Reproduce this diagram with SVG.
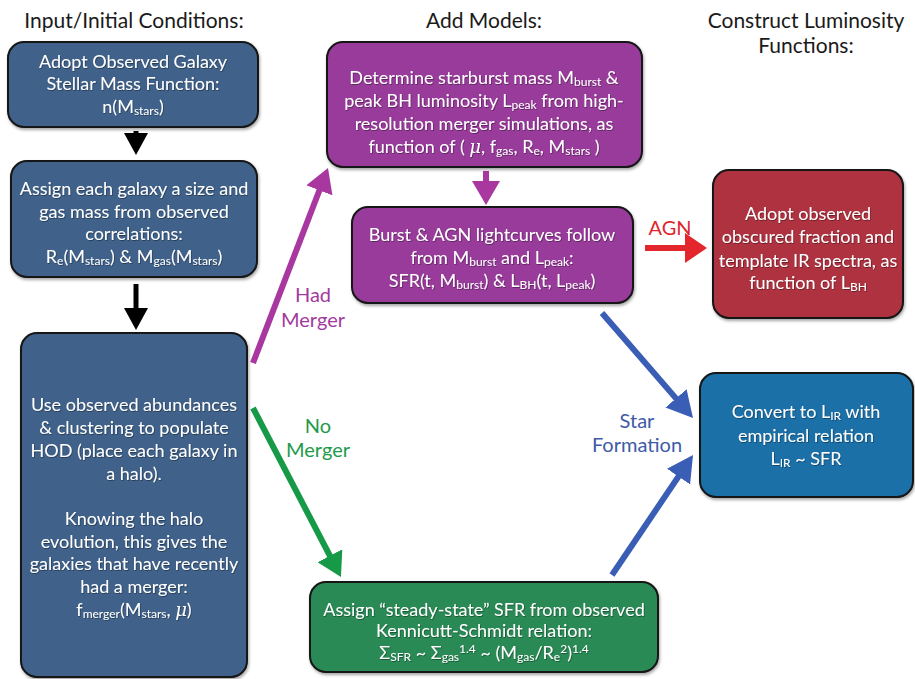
<svg xmlns="http://www.w3.org/2000/svg" width="915" height="679" viewBox="0 0 915 679">
<defs>
<style>
.t{font-family:Lato,"Open Sans","DejaVu Sans",sans-serif;font-size:18px;fill:#fff;text-anchor:middle;filter:url(#ts)}
.h{font-family:Lato,"Open Sans","DejaVu Sans",sans-serif;font-size:21px;fill:#1a1a1a;text-anchor:middle}
.l{font-family:Lato,"Open Sans","DejaVu Sans",sans-serif;font-size:20px;text-anchor:middle}
.s{font-size:12px}
.m{font-family:"DejaVu Serif","Liberation Serif",serif;font-style:italic}
.box{stroke:#141414;stroke-width:2;filter:url(#bs)}
.slate{fill:#40628a}
.purple{fill:#983b9a}
.red{fill:#ae3340}
.blue{fill:#1f6fa8}
.green{fill:#2b8a55}
</style>
<filter id="ts" x="-5%" y="-20%" width="110%" height="150%">
<feDropShadow dx="0.7" dy="0.9" stdDeviation="0.6" flood-color="#000" flood-opacity="0.4"/>
</filter>
<filter id="bs" x="-5%" y="-5%" width="110%" height="115%">
<feDropShadow dx="1" dy="2" stdDeviation="1.5" flood-color="#000" flood-opacity="0.35"/>
</filter>
<marker id="mk" markerUnits="userSpaceOnUse" markerWidth="22" markerHeight="24" refX="2" refY="12" orient="auto"><path d="M0,0 L22,12 L0,24 z" fill="#000"/></marker>
<marker id="mp" markerUnits="userSpaceOnUse" markerWidth="24" markerHeight="28" refX="2" refY="14" orient="auto"><path d="M0,0 L24,14 L0,28 z" fill="#a8389f"/></marker>
<marker id="mg" markerUnits="userSpaceOnUse" markerWidth="24" markerHeight="28" refX="2" refY="14" orient="auto"><path d="M0,0 L24,14 L0,28 z" fill="#179a47"/></marker>
<marker id="mb" markerUnits="userSpaceOnUse" markerWidth="26" markerHeight="28" refX="2" refY="14" orient="auto"><path d="M0,0 L26,14 L0,28 z" fill="#3a5db5"/></marker>
<marker id="mr" markerUnits="userSpaceOnUse" markerWidth="22" markerHeight="30" refX="2" refY="15" orient="auto"><path d="M0,0 L22,15 L0,30 z" fill="#e3262d"/></marker>
</defs>
<rect width="915" height="679" fill="#fff"/>

<g id="titles">
<text class="h" x="134" y="28">Input/Initial Conditions:</text>
<text class="h" x="484" y="28">Add Models:</text>
<text class="h" x="806" y="28">Construct Luminosity</text>
<text class="h" x="806" y="53">Functions:</text>
</g>

<g id="connectors">
<line x1="136" y1="131" x2="136" y2="135" stroke="#000" stroke-width="5" marker-end="url(#mk)"/>
<line x1="136" y1="284" x2="136" y2="310" stroke="#000" stroke-width="5" marker-end="url(#mk)"/>
<line x1="486" y1="171" x2="486" y2="183" stroke="#a8389f" stroke-width="6" marker-end="url(#mp)"/>
<line x1="253" y1="363" x2="320.1" y2="188.5" stroke="#a8389f" stroke-width="6" marker-end="url(#mp)"/>
<line x1="253" y1="408" x2="330.8" y2="557.5" stroke="#179a47" stroke-width="6" marker-end="url(#mg)"/>
<line x1="645" y1="248" x2="687" y2="248" stroke="#e3262d" stroke-width="6" marker-end="url(#mr)"/>
<line x1="602" y1="313" x2="677.3" y2="399.9" stroke="#3a5db5" stroke-width="6" marker-end="url(#mb)"/>
<line x1="612" y1="575" x2="679.6" y2="474.9" stroke="#3a5db5" stroke-width="6" marker-end="url(#mb)"/>
<text class="l" x="313" y="302" fill="#a23a9d">Had</text>
<text class="l" x="313" y="327" fill="#a23a9d">Merger</text>
<text class="l" x="318" y="433" fill="#1e9a4a">No</text>
<text class="l" x="318" y="457" fill="#1e9a4a">Merger</text>
<text class="l" x="637" y="428" fill="#3e5aa8">Star</text>
<text class="l" x="637" y="452" fill="#3e5aa8">Formation</text>
<text class="l" x="670" y="235" fill="#e0262b">AGN</text>
</g>

<g id="n1">
<rect class="box slate" x="8" y="42" width="250" height="85" rx="16"/>
<text class="t" x="133" y="68">Adopt Observed Galaxy</text>
<text class="t" x="133" y="90">Stellar Mass Function:</text>
<text class="t" x="133" y="113">n(M<tspan class="s" dy="2">stars</tspan><tspan dy="-2">)</tspan></text>
</g>

<g id="n2">
<rect class="box slate" x="11" y="161" width="246" height="116" rx="16"/>
<text class="t" x="134" y="195">Assign each galaxy a size and</text>
<text class="t" x="134" y="218">gas mass from observed</text>
<text class="t" x="134" y="240">correlations:</text>
<text class="t" x="134" y="263">R<tspan class="s" dy="2">e</tspan><tspan dy="-2">(M</tspan><tspan class="s" dy="2">stars</tspan><tspan dy="-2">) &amp; M</tspan><tspan class="s" dy="2">gas</tspan><tspan dy="-2">(M</tspan><tspan class="s" dy="2">stars</tspan><tspan dy="-2">)</tspan></text>
</g>

<g id="n3">
<rect class="box slate" x="21" y="333" width="226" height="344" rx="16"/>
<text class="t" x="134" y="411">Use observed abundances</text>
<text class="t" x="134" y="434">&amp; clustering to populate</text>
<text class="t" x="134" y="457">HOD (place each galaxy in</text>
<text class="t" x="134" y="480">a halo).</text>
<text class="t" x="134" y="525">Knowing the halo</text>
<text class="t" x="134" y="548">evolution, this gives the</text>
<text class="t" x="134" y="570">galaxies that have recently</text>
<text class="t" x="134" y="593">had a merger:</text>
<text class="t" x="134" y="616">f<tspan class="s" dy="2">merger</tspan><tspan dy="-2">(M</tspan><tspan class="s" dy="2">stars</tspan><tspan dy="-2">, </tspan><tspan class="m">μ</tspan>)</text>
</g>

<g id="n4">
<rect class="box purple" x="327" y="42" width="315" height="125" rx="16"/>
<text class="t" x="484" y="84">Determine starburst mass M<tspan class="s" dy="2">burst</tspan><tspan dy="-2"> &amp;</tspan></text>
<text class="t" x="484" y="107">peak BH luminosity L<tspan class="s" dy="2">peak</tspan><tspan dy="-2"> from high-</tspan></text>
<text class="t" x="484" y="130">resolution merger simulations, as</text>
<text class="t" x="484" y="153">function of ( <tspan class="m">μ</tspan>, f<tspan class="s" dy="2">gas</tspan><tspan dy="-2">, R</tspan><tspan class="s" dy="2">e</tspan><tspan dy="-2">, M</tspan><tspan class="s" dy="2">stars</tspan><tspan dy="-2"> )</tspan></text>
</g>

<g id="n5">
<rect class="box purple" x="352" y="207" width="281" height="96" rx="16"/>
<text class="t" x="492" y="241">Burst &amp; AGN lightcurves follow</text>
<text class="t" x="492" y="264">from M<tspan class="s" dy="2">burst</tspan><tspan dy="-2"> and L</tspan><tspan class="s" dy="2">peak</tspan><tspan dy="-2">:</tspan></text>
<text class="t" x="492" y="287">SFR(t, M<tspan class="s" dy="2">burst</tspan><tspan dy="-2">) &amp; L</tspan><tspan class="s" dy="2">BH</tspan><tspan dy="-2">(t, L</tspan><tspan class="s" dy="2">peak</tspan><tspan dy="-2">)</tspan></text>
</g>

<g id="n6">
<rect class="box red" x="713" y="170" width="190" height="148" rx="16"/>
<text class="t" x="808" y="220">Adopt observed</text>
<text class="t" x="808" y="243">obscured fraction and</text>
<text class="t" x="808" y="267">template IR spectra, as</text>
<text class="t" x="808" y="289">function of L<tspan class="s" dy="2">BH</tspan></text>
</g>

<g id="n7">
<rect class="box blue" x="700" y="373" width="213" height="124" rx="16"/>
<text class="t" x="806" y="418">Convert to L<tspan class="s" dy="2">IR</tspan><tspan dy="-2"> with</tspan></text>
<text class="t" x="806" y="442">empirical relation</text>
<text class="t" x="806" y="465">L<tspan class="s" dy="2">IR</tspan><tspan dy="-2"> ~ SFR</tspan></text>
</g>

<g id="n8">
<rect class="box green" x="310" y="582" width="348" height="90" rx="16"/>
<text class="t" x="484" y="616">Assign “steady-state” SFR from observed</text>
<text class="t" x="484" y="637">Kennicutt-Schmidt relation:</text>
<text class="t" x="484" y="659">Σ<tspan class="s" dy="2">SFR</tspan><tspan dy="-2"> ~ Σ</tspan><tspan class="s" dy="2">gas</tspan><tspan class="s" dy="-8">1.4</tspan><tspan dy="6"> ~ (M</tspan><tspan class="s" dy="2">gas</tspan><tspan dy="-2">/R</tspan><tspan class="s" dy="2">e</tspan><tspan class="s" dy="-8">2</tspan><tspan dy="6">)</tspan><tspan class="s" dy="-6">1.4</tspan></text>
</g>
</svg>
